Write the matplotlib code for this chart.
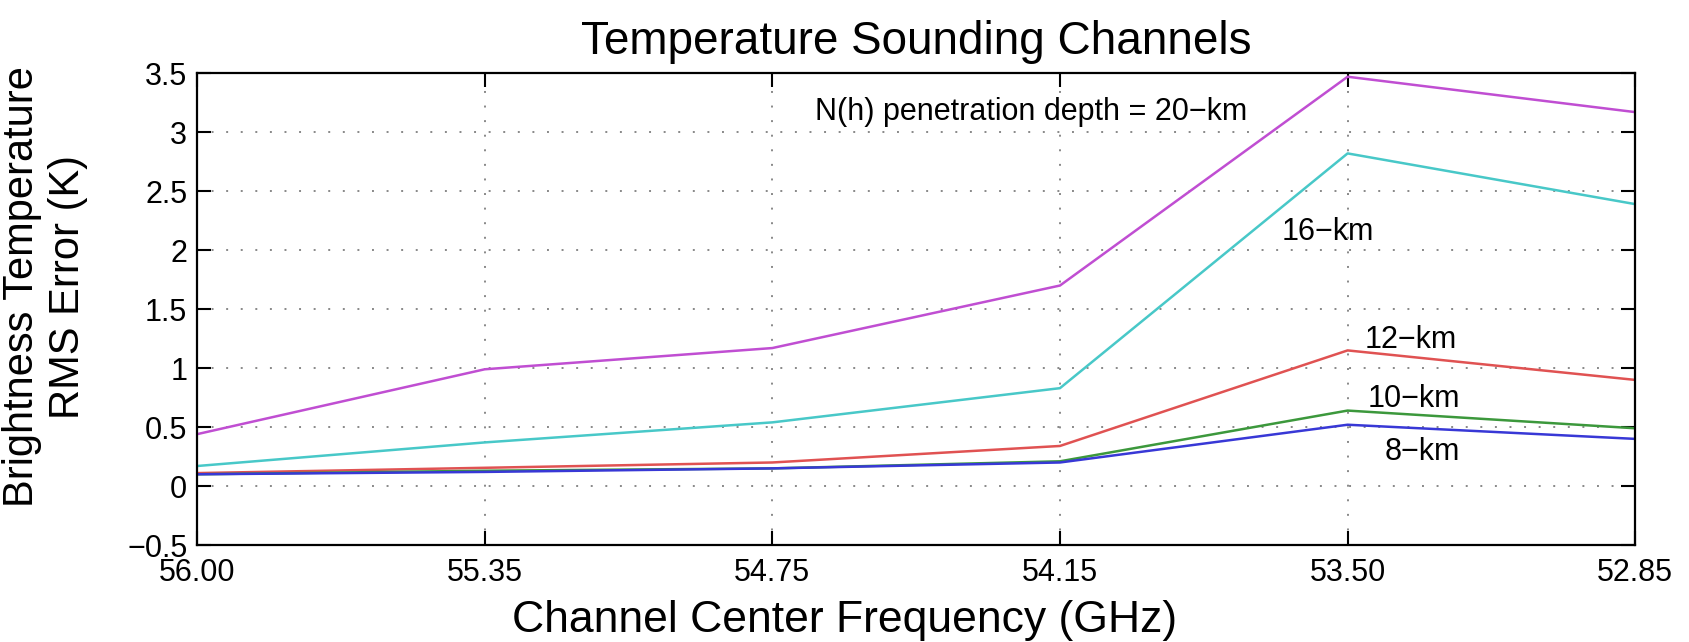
import matplotlib
matplotlib.use("Agg")
import matplotlib.pyplot as plt

plt.rcParams['font.family'] = ['Liberation Sans', 'DejaVu Sans']

# Channel center frequencies (plotted as evenly spaced categories)
freq_labels = ['56.00', '55.35', '54.75', '54.15', '53.50', '52.85']

# RMS error (K) for each N(h) penetration depth
rms_20km = [0.44, 0.99, 1.17, 1.70, 3.47, 3.17]
rms_16km = [0.17, 0.37, 0.54, 0.83, 2.82, 2.39]
rms_12km = [0.11, 0.155, 0.20, 0.34, 1.15, 0.90]
rms_10km = [0.10, 0.13, 0.15, 0.21, 0.64, 0.49]
rms_8km = [0.10, 0.12, 0.15, 0.20, 0.52, 0.40]

series = [
    (rms_20km, '#c04ed2'),
    (rms_16km, '#48c8c8'),
    (rms_12km, '#e05252'),
    (rms_10km, '#3c983c'),
    (rms_8km, '#3838d6'),
]

fig = plt.figure(figsize=(16.9, 6.42), dpi=100)
ax = fig.add_axes([0.1166, 0.151, 0.851, 0.735])

x = list(range(len(freq_labels)))
for vals, col in series:
    ax.plot(x, vals, color=col, linewidth=1.8)

ax.set_xlim(0, 5)
ax.set_ylim(-0.5, 3.5)
ax.set_xticks(x)
ax.set_xticklabels(freq_labels)
ax.set_yticks([-0.5, 0, 0.5, 1, 1.5, 2, 2.5, 3, 3.5])
ax.set_yticklabels(['\u22120.5', '0', '0.5', '1', '1.5', '2', '2.5', '3', '3.5'])
ax.grid(True, linestyle=(0, (1, 6.5)), color='#888888', linewidth=1.4)
ax.tick_params(direction='in', length=10, width=1.5, labelsize=22,
               top=True, right=True)
ax.tick_params(axis='x', pad=9)
ax.tick_params(axis='y', pad=7)
for s in ax.spines.values():
    s.set_linewidth(1.6)

ax.set_title('Temperature Sounding Channels', fontsize=33, pad=14)
ax.set_xlabel('Channel Center Frequency (GHz)', fontsize=32)
ax.xaxis.set_label_coords(0.5, 0.066, transform=fig.transFigure)
ax.set_ylabel('Brightness Temperature\nRMS Error (K)', fontsize=30,
              linespacing=1.2)
ax.yaxis.set_label_coords(-0.0758, 0.547)

ax.text(2.15, 3.10, 'N(h) penetration depth = 20\u2212km', fontsize=22,
        va='baseline', ha='left',
        bbox=dict(facecolor='white', edgecolor='none', pad=1))
ax.text(3.77, 2.09, '16\u2212km', fontsize=22, va='baseline', ha='left')
ax.text(4.06, 1.17, '12\u2212km', fontsize=22, va='baseline', ha='left')
ax.text(4.07, 0.67, '10\u2212km', fontsize=22, va='baseline', ha='left')
ax.text(4.13, 0.22, '8\u2212km', fontsize=22, va='baseline', ha='left')

fig.savefig('out.png', dpi=100)
